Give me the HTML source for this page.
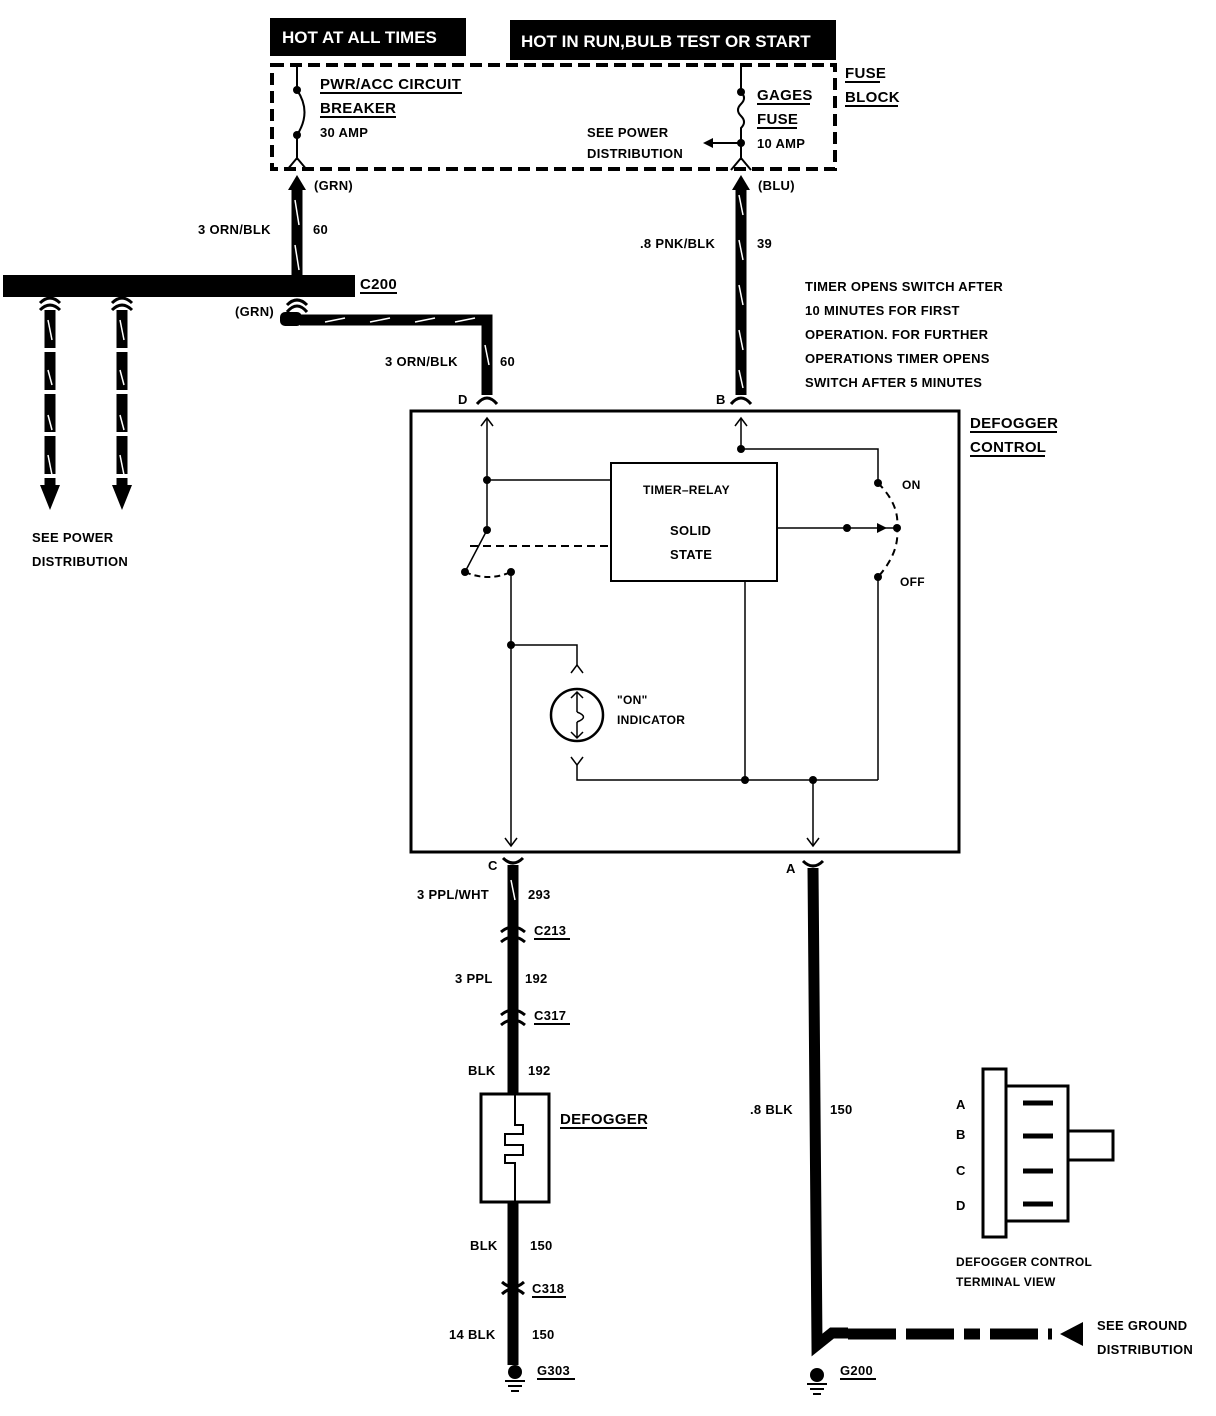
<!DOCTYPE html>
<html><head><meta charset="utf-8"><style>
html,body{margin:0;padding:0;background:#fff;}
svg{display:block;}
text{font-family:"Liberation Sans Narrow","Liberation Sans",sans-serif;font-weight:bold;fill:#000;font-size:15px;letter-spacing:0.3px;}
.s{font-size:13px;}
</style></head><body>
<svg width="1216" height="1416" viewBox="0 0 1216 1416" xmlns="http://www.w3.org/2000/svg">
<rect width="1216" height="1416" fill="#fff"/>
<!-- header boxes -->
<rect x="270" y="18" width="196" height="38" fill="#000"/>
<text x="282" y="43" style="fill:#fff;font-size:17px;font-family:'Liberation Sans';letter-spacing:0">HOT AT ALL TIMES</text>
<rect x="510" y="20" width="326" height="40" fill="#000"/>
<text x="521" y="47" style="fill:#fff;font-size:17px;font-family:'Liberation Sans';letter-spacing:0">HOT IN RUN,BULB TEST OR START</text>
<!-- fuse block dashed -->
<rect x="272" y="65" width="563" height="104" fill="none" stroke="#000" stroke-width="4" stroke-dasharray="12,6"/>
<text x="845" y="78">FUSE</text><line x1="845" y1="82" x2="880" y2="82" stroke="#000" stroke-width="2"/>
<text x="845" y="102">BLOCK</text><line x1="845" y1="106" x2="898" y2="106" stroke="#000" stroke-width="2"/>
<!-- breaker -->
<g stroke="#000" stroke-width="2" fill="none">
<line x1="297" y1="65" x2="297" y2="90"/><line x1="297" y1="135" x2="297" y2="160"/>
<path d="M297 90 Q312 112 297 135"/>
<path d="M287 170 L297 158 L307 170"/>
<line x1="741" y1="65" x2="741" y2="92"/>
<path d="M741 92 q6 6 0 12 q-6 6 0 12 q6 6 0 12 L741 160"/>
<path d="M731 170 L741 158 L751 170"/>
<line x1="741" y1="143" x2="712" y2="143"/>
</g>
<circle cx="297" cy="90" r="4"/><circle cx="297" cy="135" r="4"/>
<circle cx="741" cy="92" r="4"/><circle cx="741" cy="143" r="4"/>
<polygon points="703,143 713,138 713,148"/>
<text x="320" y="89" style="font-size:15px">PWR/ACC CIRCUIT</text><line x1="320" y1="93" x2="462" y2="93" stroke="#000" stroke-width="2"/>
<text x="320" y="113" style="font-size:15px">BREAKER</text><line x1="320" y1="117" x2="396" y2="117" stroke="#000" stroke-width="2"/>
<text x="320" y="137" class="s">30 AMP</text>
<text x="757" y="100">GAGES</text><line x1="757" y1="104" x2="810" y2="104" stroke="#000" stroke-width="2"/>
<text x="757" y="124">FUSE</text><line x1="757" y1="128" x2="797" y2="128" stroke="#000" stroke-width="2"/>
<text x="757" y="148" class="s">10 AMP</text>
<text x="587" y="137" class="s">SEE POWER</text>
<text x="587" y="158" class="s">DISTRIBUTION</text>
<!-- thick wires -->
<g stroke="#000" stroke-width="11" fill="none">
<line x1="297" y1="185" x2="297" y2="280"/>
<line x1="741" y1="185" x2="741" y2="395"/>
<path d="M300 320 L487 320 L487 395"/>
<line x1="513" y1="865" x2="513" y2="1365"/>
<path d="M813 868 L817 1345 L832 1333 L848 1333"/>
<line x1="50" y1="310" x2="50" y2="490" stroke-dasharray="38,4"/>
<line x1="122" y1="310" x2="122" y2="490" stroke-dasharray="38,4"/>
<line x1="848" y1="1334" x2="1052" y2="1334" stroke-dasharray="48,10,48,10,16,10"/>
</g>
<polygon points="297,175 288,190 306,190"/><polygon points="741,175 732,190 750,190"/>
<polygon points="40,485 60,485 50,510"/><polygon points="112,485 132,485 122,510"/>
<polygon points="1060,1334 1083,1322 1083,1346"/>
<!-- slashes -->
<g stroke="#fff" stroke-width="1.5">
<line x1="295" y1="200" x2="299" y2="225"/><line x1="295" y1="245" x2="299" y2="270"/>
<line x1="739" y1="195" x2="743" y2="215"/><line x1="739" y1="240" x2="743" y2="260"/><line x1="739" y1="285" x2="743" y2="305"/><line x1="739" y1="330" x2="743" y2="350"/><line x1="739" y1="370" x2="743" y2="388"/>
<line x1="325" y1="322" x2="345" y2="318"/><line x1="370" y1="322" x2="390" y2="318"/><line x1="415" y1="322" x2="435" y2="318"/><line x1="455" y1="322" x2="475" y2="318"/>
<line x1="485" y1="345" x2="489" y2="365"/>
<line x1="511" y1="880" x2="515" y2="900"/>
<line x1="48" y1="320" x2="52" y2="340"/><line x1="48" y1="370" x2="52" y2="385"/><line x1="48" y1="415" x2="52" y2="430"/><line x1="48" y1="455" x2="52" y2="475"/>
<line x1="120" y1="320" x2="124" y2="340"/><line x1="120" y1="370" x2="124" y2="385"/><line x1="120" y1="415" x2="124" y2="430"/><line x1="120" y1="455" x2="124" y2="475"/>
</g>
<!-- C200 bar -->
<rect x="3" y="275" width="352" height="22" fill="#000"/>
<text x="360" y="289">C200</text><line x1="360" y1="293" x2="397" y2="293" stroke="#000" stroke-width="2"/>
<!-- connector caps -->
<g stroke="#000" stroke-width="3" fill="none">
<path d="M287 312 Q297 300 307 312"/><path d="M287 305 Q297 295 307 305"/>
<path d="M40 310 Q50 300 60 310"/><path d="M40 303 Q50 293 60 303"/>
<path d="M112 310 Q122 300 132 310"/><path d="M112 303 Q122 293 132 303"/>
<path d="M477 404 Q487 392 497 404"/><path d="M731 404 Q741 392 751 404"/>
<path d="M503 858 Q513 868 523 858"/><path d="M803 861 Q813 871 823 861"/>
<path d="M501 932 Q513 922 525 932"/><path d="M501 942 Q513 932 525 942"/>
<path d="M501 1015 Q513 1005 525 1015"/><path d="M501 1025 Q513 1015 525 1025"/>
<path d="M502 1282 Q513 1292 524 1282"/><path d="M502 1294 Q513 1284 524 1294"/>
</g>
<rect x="280" y="312" width="22" height="14" fill="#000" rx="5"/>
<text x="314" y="190" class="s">(GRN)</text><text x="758" y="190" class="s">(BLU)</text>
<text x="235" y="316" class="s">(GRN)</text>
<text x="198" y="234" class="s">3 ORN/BLK</text><text x="313" y="234" class="s">60</text>
<text x="640" y="248" class="s">.8 PNK/BLK</text><text x="757" y="248" class="s">39</text>
<text x="385" y="366" class="s">3 ORN/BLK</text><text x="500" y="366" class="s">60</text>
<text x="458" y="404" class="s">D</text><text x="716" y="404" class="s">B</text>
<text x="32" y="542" class="s">SEE POWER</text><text x="32" y="566" class="s">DISTRIBUTION</text>
<text x="805" y="291" class="s">TIMER OPENS SWITCH AFTER</text>
<text x="805" y="315" class="s">10 MINUTES FOR FIRST</text>
<text x="805" y="339" class="s">OPERATION.  FOR FURTHER</text>
<text x="805" y="363" class="s">OPERATIONS TIMER OPENS</text>
<text x="805" y="387" class="s">SWITCH AFTER 5 MINUTES</text>
<text x="970" y="428">DEFOGGER</text><line x1="970" y1="432" x2="1057" y2="432" stroke="#000" stroke-width="2"/>
<text x="970" y="452">CONTROL</text><line x1="970" y1="456" x2="1045" y2="456" stroke="#000" stroke-width="2"/>
<!-- defogger control box -->
<rect x="411" y="411" width="548" height="441" fill="none" stroke="#000" stroke-width="3"/>
<rect x="611" y="463" width="166" height="118" fill="none" stroke="#000" stroke-width="2"/>
<text x="643" y="494" class="s" style="font-size:12px">TIMER–RELAY</text>
<text x="670" y="535" class="s">SOLID</text><text x="670" y="559" class="s">STATE</text>
<g stroke="#000" stroke-width="1.5" fill="none">
<line x1="487" y1="418" x2="487" y2="530"/><path d="M481 426 L487 418 L493 426"/>
<line x1="487" y1="480" x2="611" y2="480"/>
<line x1="487" y1="530" x2="465" y2="572"/>
<line x1="470" y1="546" x2="611" y2="546" stroke-dasharray="8,5" stroke-width="2"/>
<path d="M465 572 Q488 582 511 572" stroke-dasharray="6,4" stroke-width="2"/>
<line x1="511" y1="572" x2="511" y2="845"/><path d="M505 838 L511 846 L517 838"/>
<path d="M511 645 L577 645 L577 665"/><path d="M571 673 L577 665 L583 673"/>
<path d="M571 757 L577 765 L583 757"/><path d="M577 765 L577 780 L878 780"/>
<line x1="745" y1="581" x2="745" y2="780"/>
<line x1="813" y1="780" x2="813" y2="845"/><path d="M807 838 L813 846 L819 838"/>
<line x1="878" y1="577" x2="878" y2="780"/>
<line x1="741" y1="418" x2="741" y2="449"/><path d="M735 426 L741 418 L747 426"/>
<path d="M741 449 L878 449 L878 483"/>
<line x1="777" y1="528" x2="897" y2="528"/>
<path d="M878 483 Q900 505 897 528 Q900 552 878 577" stroke-dasharray="7,5" stroke-width="2"/>
</g>
<g>
<circle cx="487" cy="480" r="4"/><circle cx="487" cy="530" r="4"/><circle cx="465" cy="572" r="4"/><circle cx="511" cy="572" r="4"/>
<circle cx="511" cy="645" r="4"/><circle cx="745" cy="780" r="4"/><circle cx="813" cy="780" r="4"/>
<circle cx="741" cy="449" r="4"/><circle cx="878" cy="483" r="4"/><circle cx="847" cy="528" r="4"/><circle cx="897" cy="528" r="4"/><circle cx="878" cy="577" r="4"/>
</g>
<polygon points="887,528 877,523 877,533"/>
<circle cx="577" cy="715" r="26" fill="none" stroke="#000" stroke-width="2.5"/>
<g stroke="#000" stroke-width="1.5" fill="none">
<path d="M577 692 L577 712 M571 698 L577 692 L583 698"/>
<path d="M577 712 Q590 717 577 722"/>
<path d="M577 722 L577 738 M571 732 L577 738 L583 732"/>
</g>
<text x="617" y="704" class="s" style="font-size:12px">"ON"</text>
<text x="617" y="724" class="s" style="font-size:12px">INDICATOR</text>
<text x="902" y="489" class="s" style="font-size:12px">ON</text><text x="900" y="586" class="s" style="font-size:12px">OFF</text>
<text x="488" y="870" class="s">C</text><text x="786" y="873" class="s">A</text>
<!-- lower labels -->
<text x="417" y="899" class="s">3 PPL/WHT</text><text x="528" y="899" class="s">293</text>
<text x="534" y="935" class="s">C213</text><line x1="534" y1="939" x2="570" y2="939" stroke="#000" stroke-width="2"/>
<text x="455" y="983" class="s">3 PPL</text><text x="525" y="983" class="s">192</text>
<text x="534" y="1020" class="s">C317</text><line x1="534" y1="1024" x2="570" y2="1024" stroke="#000" stroke-width="2"/>
<text x="468" y="1075" class="s">BLK</text><text x="528" y="1075" class="s">192</text>
<rect x="481" y="1094" width="68" height="108" fill="#fff" stroke="#000" stroke-width="3"/>
<path d="M515 1094 L515 1125 L523 1125 L523 1134 L505 1134 L505 1145 L523 1145 L523 1155 L505 1155 L505 1163 L515 1163 L515 1202" fill="none" stroke="#000" stroke-width="2"/>
<text x="560" y="1124">DEFOGGER</text><line x1="560" y1="1128" x2="647" y2="1128" stroke="#000" stroke-width="2"/>
<text x="470" y="1250" class="s">BLK</text><text x="530" y="1250" class="s">150</text>
<text x="532" y="1293" class="s">C318</text><line x1="532" y1="1297" x2="566" y2="1297" stroke="#000" stroke-width="2"/>
<text x="449" y="1339" class="s">14 BLK</text><text x="532" y="1339" class="s">150</text>
<circle cx="515" cy="1372" r="7"/>
<g stroke="#000" stroke-width="2"><line x1="505" y1="1381" x2="525" y2="1381"/><line x1="508" y1="1386" x2="522" y2="1386"/><line x1="511" y1="1391" x2="519" y2="1391"/></g>
<text x="537" y="1375" class="s">G303</text><line x1="537" y1="1379" x2="575" y2="1379" stroke="#000" stroke-width="2"/>
<text x="750" y="1114" class="s">.8 BLK</text><text x="830" y="1114" class="s">150</text>
<circle cx="817" cy="1375" r="7"/>
<g stroke="#000" stroke-width="2"><line x1="807" y1="1384" x2="827" y2="1384"/><line x1="810" y1="1389" x2="824" y2="1389"/><line x1="813" y1="1394" x2="821" y2="1394"/></g>
<text x="840" y="1375" class="s">G200</text><line x1="840" y1="1379" x2="876" y2="1379" stroke="#000" stroke-width="2"/>
<text x="1097" y="1330" class="s">SEE GROUND</text><text x="1097" y="1354" class="s">DISTRIBUTION</text>
<!-- terminal view -->
<rect x="983" y="1069" width="23" height="168" fill="none" stroke="#000" stroke-width="3"/>
<rect x="1006" y="1086" width="62" height="135" fill="none" stroke="#000" stroke-width="3"/>
<rect x="1068" y="1131" width="45" height="29" fill="none" stroke="#000" stroke-width="3"/>
<g stroke="#000" stroke-width="5"><line x1="1023" y1="1103" x2="1053" y2="1103"/><line x1="1023" y1="1136" x2="1053" y2="1136"/><line x1="1023" y1="1171" x2="1053" y2="1171"/><line x1="1023" y1="1204" x2="1053" y2="1204"/></g>
<text x="956" y="1109" class="s">A</text><text x="956" y="1139" class="s">B</text><text x="956" y="1175" class="s">C</text><text x="956" y="1210" class="s">D</text>
<text x="956" y="1266" class="s" style="font-size:12px">DEFOGGER CONTROL</text>
<text x="956" y="1286" class="s" style="font-size:12px">TERMINAL VIEW</text>
</svg>
</body></html>
